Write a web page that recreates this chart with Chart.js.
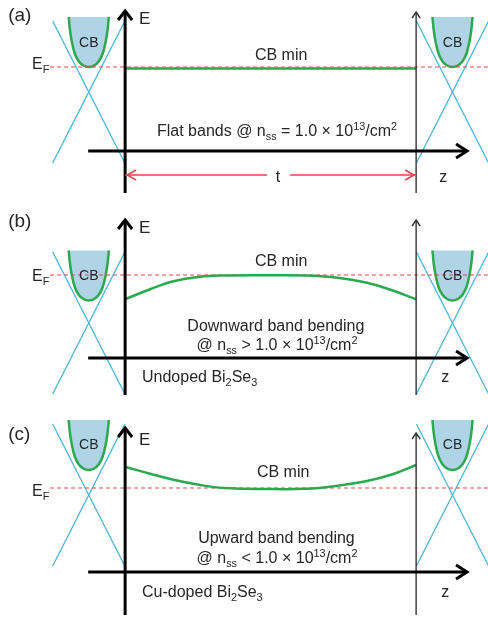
<!doctype html>
<html lang="en">
<head>
<meta charset="UTF-8">
<meta name="viewport" content="width=device-width,initial-scale=1">
<title>Band bending in Bi2Se3 – schematic</title>
<script src="https://cdn.jsdelivr.net/npm/chart.js"></script>
<style>
body{margin:0;background:#fff;width:488px;height:619px;position:relative;overflow:hidden}
.panel{position:absolute;left:0;width:488px}
</style>
</head>
<body>
<div class="panel" style="top:0;height:200px"><canvas id="pa" width="488" height="200"></canvas></div>
<div class="panel" style="top:200px;height:200px"><canvas id="pb" width="488" height="200"></canvas></div>
<div class="panel" style="top:400px;height:219px"><canvas id="pc" width="488" height="219"></canvas></div>

<script>
/* ---------- DATA : z in units of t/10 (slab 0..10), E relative to E_F (arb. units) ---------- */
const panelIds     = ["pa","pb","pc"];
const eRange       = [[-5.32,2.68],[-5.0,3.0],[-5.24,3.52]];
const zRange       = [-4.3,12.47];
const coneZ        = [-1.25,11.25];          // bulk cones left / right of the slab
const diracE       = [-1.0,-1.92,-0.28];     // Dirac point, per panel
const cbMinE       = [0,-1.02,0.72];         // bulk CB bottom, per panel
const coneHalfZ    = 1.24, coneHalfE = 2.84;
const cbHalfZ      = [0,0.17,0.34,0.48,0.58,0.65,0.69];
const cbRiseE      = [0,0.05,0.22,0.54,1.0,1.52,2.0];
const bandZ        = [0,0.86,1.66,2.58,3.4,4.85,6.24,7.16,8.31,9.22,10];
const bandA        = [-0.06,-0.06,-0.06,-0.06,-0.06,-0.06,-0.06,-0.06,-0.06,-0.06,-0.06];
const bandB        = [-0.97,-0.57,-0.25,-0.07,-0.02,-0.01,-0.02,-0.09,-0.31,-0.63,-0.97];
const bandC        = [0.85,0.57,0.33,0.12,0.0,-0.04,-0.03,0.07,0.28,0.56,0.92];
const eAxisTop     = [2.24,2.2,2.4];
const eAxisBottom  = [-5.04,-4.8,-5.08];
const rightLineTop = [2.2,2.2,2.2];
const zAxisE       = [-3.36,-3.32,-3.36];
const zAxisZ       = [-1.27,11.75];
const efStartZ     = -2.58;
const tArrowE      = -4.32;
const tGapZ        = [4.88,5.67];

/* ---------- labels ---------- */
const labels = [
  [ {s:"(a)",z:-4.02,e:2.04,size:19,left:1},
    {s:"E",z:0.48,e:1.92,size:17,left:1},
    {s:"CB",z:coneZ[0],e:0.96,size:14},
    {s:"CB",z:coneZ[1],e:0.96,size:14},
    {s:"E_{F}",z:-3.2,e:0.08,size:16,left:1},
    {s:"CB min",z:5.36,e:0.44,size:16},
    {s:"Flat bands @ n_{ss} = 1.0 × 10^{13}/cm^{2}",z:5.22,e:-2.6,size:16},
    {s:"t",z:5.25,e:-4.44,size:16},
    {s:"z",z:10.93,e:-4.44,size:16} ],
  [ {s:"(b)",z:-4.02,e:2.12,size:19,left:1},
    {s:"E",z:0.48,e:1.88,size:17,left:1},
    {s:"CB",z:coneZ[0],e:-0.04,size:14},
    {s:"CB",z:coneZ[1],e:-0.04,size:14},
    {s:"E_{F}",z:-3.2,e:-0.08,size:16,left:1},
    {s:"CB min",z:5.36,e:0.52,size:16},
    {s:"Downward band bending",z:5.18,e:-2.08,size:16},
    {s:"@ n_{ss} > 1.0 × 10^{13}/cm^{2}",z:5.22,e:-2.84,size:16},
    {s:"Undoped Bi_{2}Se_{3}",z:0.58,e:-4.12,size:16,left:1},
    {s:"z",z:11.0,e:-4.12,size:16} ],
  [ {s:"(c)",z:-4.02,e:2.12,size:19,left:1},
    {s:"E",z:0.48,e:1.92,size:17,left:1},
    {s:"CB",z:coneZ[0],e:1.72,size:14},
    {s:"CB",z:coneZ[1],e:1.72,size:14},
    {s:"E_{F}",z:-3.2,e:-0.16,size:16,left:1},
    {s:"CB min",z:5.43,e:0.6,size:16},
    {s:"Upward band bending",z:5.2,e:-2.04,size:16},
    {s:"@ n_{ss} < 1.0 × 10^{13}/cm^{2}",z:5.22,e:-2.84,size:16},
    {s:"Cu-doped Bi_{2}Se_{3}",z:0.58,e:-4.2,size:16,left:1},
    {s:"z",z:11.0,e:-4.2,size:16} ]
];
const bands = [bandA,bandB,bandC];

const GREEN="#2ca84e", CYAN="#47b6d8", RED="#e2454a", FILL="#aed4e5", INK="#262626";
const FONT = s => `${s}px "Liberation Sans", Arial, sans-serif`;

/* ---------- helpers ---------- */
function cbPoints(zc,emin){
  const pts=[];
  for(let k=cbHalfZ.length-1;k>0;k--) pts.push({x:zc-cbHalfZ[k],y:emin+cbRiseE[k]});
  for(let k=0;k<cbHalfZ.length;k++) pts.push({x:zc+cbHalfZ[k],y:emin+cbRiseE[k]});
  return pts;
}
function seg(p,color,w,extra){ return Object.assign({data:p,borderColor:color,borderWidth:w,pointRadius:0,fill:false,tension:0},extra||{}); }

function drawRich(ctx,str,x,y,size,left){
  const parts=[],re=/([_^])\{([^}]*)\}/g; let last=0,m;
  while((m=re.exec(str))){ if(m.index>last) parts.push({t:str.slice(last,m.index),k:""}); parts.push({t:m[2],k:m[1]}); last=re.lastIndex; }
  if(last<str.length) parts.push({t:str.slice(last),k:""});
  let w=0;
  parts.forEach(p=>{ctx.font=FONT(p.k?size*0.68:size); p.w=ctx.measureText(p.t).width; w+=p.w;});
  let cx=left?x:x-w/2;
  ctx.textAlign="left"; ctx.textBaseline="middle"; ctx.fillStyle=INK;
  parts.forEach(p=>{
    ctx.font=FONT(p.k?size*0.68:size);
    const dy=p.k==="_"?size*0.3:p.k==="^"?-size*0.32:0;
    ctx.fillText(p.t,cx,y+dy); cx+=p.w;
  });
}
function chevron(ctx,x,y,dir,len,half,lw,color){
  ctx.save(); ctx.strokeStyle=color; ctx.lineWidth=lw; ctx.lineJoin="miter"; ctx.lineCap="butt";
  ctx.beginPath();
  if(dir==="up"){ ctx.moveTo(x-half,y+len); ctx.lineTo(x,y); ctx.lineTo(x+half,y+len); }
  if(dir==="right"){ ctx.moveTo(x-len,y-half); ctx.lineTo(x,y); ctx.lineTo(x-len,y+half); }
  if(dir==="left"){ ctx.moveTo(x+len,y-half); ctx.lineTo(x,y); ctx.lineTo(x+len,y+half); }
  ctx.stroke(); ctx.restore();
}

const schematic = {
  id:"schematic",
  afterDatasetsDraw(chart){
    const o=chart.options.plugins.schematic, X=chart.scales.x, Y=chart.scales.y, ctx=chart.ctx;
    const px=z=>X.getPixelForValue(z), py=e=>Y.getPixelForValue(e);
    const i=o.panel;
    chevron(ctx,px(0),py(eAxisTop[i]),"up",9,7,3,"#000");
    chevron(ctx,px(zAxisZ[1]),py(zAxisE[i]),"right",11,7,3,"#000");
    chevron(ctx,px(10),py(rightLineTop[i]),"up",6,4,1.4,"#333");
    if(i===0){
      chevron(ctx,px(0)+2,py(tArrowE),"left",9,5,1.5,RED);
      chevron(ctx,px(10)-2,py(tArrowE),"right",9,5,1.5,RED);
    }
    labels[i].forEach(l=>drawRich(ctx,l.s,px(l.z),py(l.e),l.size,l.left));
  }
};

function makePanel(i){
  const ds=[];
  coneZ.forEach(zc=>{
    const top=cbMinE[i]+cbRiseE[cbRiseE.length-1];
    ds.push(seg(cbPoints(zc,cbMinE[i]),GREEN,2.5,{fill:{value:top},backgroundColor:FILL,cubicInterpolationMode:"monotone"}));
  });
  coneZ.forEach(zc=>{
    const D=diracE[i];
    ds.push(seg([{x:zc-coneHalfZ,y:D+coneHalfE},{x:zc+coneHalfZ,y:D-coneHalfE}],CYAN,1.3));
    ds.push(seg([{x:zc-coneHalfZ,y:D-coneHalfE},{x:zc+coneHalfZ,y:D+coneHalfE}],CYAN,1.3));
  });
  ds.push(seg([{x:efStartZ,y:0},{x:zRange[1],y:0}],RED,1.2,{borderDash:[4,3]}));
  ds.push(seg(bandZ.map((z,k)=>({x:z,y:bands[i][k]})),GREEN,2.5,{tension:0.4}));
  ds.push(seg([{x:0,y:eAxisBottom[i]},{x:0,y:eAxisTop[i]}],"#000",3));
  ds.push(seg([{x:10,y:eAxisBottom[i]},{x:10,y:rightLineTop[i]}],"#333",1.4));
  ds.push(seg([{x:zAxisZ[0],y:zAxisE[i]},{x:zAxisZ[1],y:zAxisE[i]}],"#000",3));
  if(i===0){
    ds.push(seg([{x:0,y:tArrowE},{x:tGapZ[0],y:tArrowE}],RED,1.5));
    ds.push(seg([{x:tGapZ[1],y:tArrowE},{x:10,y:tArrowE}],RED,1.5));
  }
  ds.forEach((d,k)=>d.order=-k);
  new Chart(document.getElementById(panelIds[i]),{
    type:"line",
    data:{datasets:ds},
    options:{
      responsive:false,animation:false,
      layout:{padding:0},
      scales:{
        x:{type:"linear",display:false,min:zRange[0],max:zRange[1]},
        y:{type:"linear",display:false,min:eRange[i][0],max:eRange[i][1]}
      },
      plugins:{legend:{display:false},tooltip:{enabled:false},schematic:{panel:i}}
    },
    plugins:[schematic]
  });
}
[0,1,2].forEach(makePanel);
</script>
</body>
</html>
